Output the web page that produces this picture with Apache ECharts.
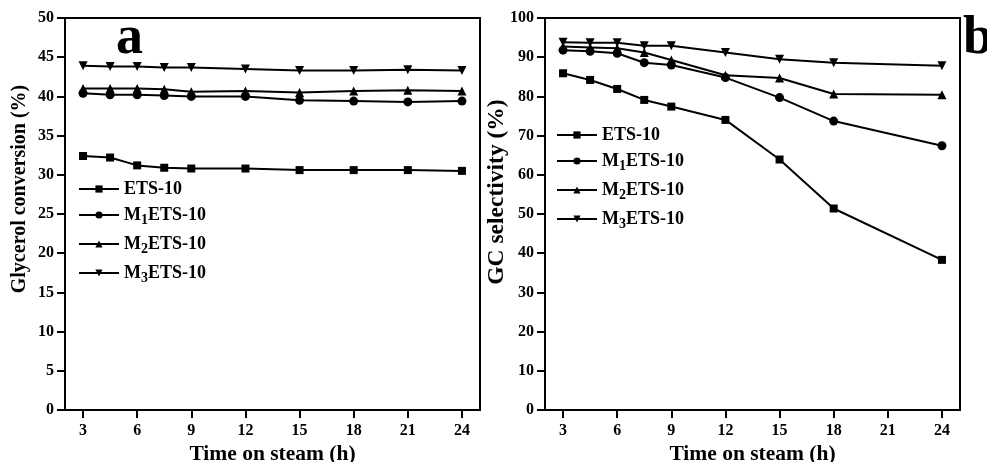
<!DOCTYPE html>
<html><head><meta charset="utf-8">
<script src="https://cdn.jsdelivr.net/npm/echarts@6/dist/echarts.min.js"></script>
<style>html,body{margin:0;padding:0;background:#fff}#c{width:987px;height:462px}</style>
</head><body><div id="c"></div>
<script>
// Data
const seriesNames = ['ETS-10', 'M1ETS-10', 'M2ETS-10', 'M3ETS-10'];
const xConv = [3, 4.5, 6, 7.5, 9, 12, 15, 18, 21, 24];
const convETS = [32.4, 32.2, 31.2, 30.9, 30.8, 30.8, 30.6, 30.6, 30.6, 30.5];
const convM1 = [40.4, 40.2, 40.2, 40.1, 40.0, 40.0, 39.5, 39.4, 39.3, 39.4];
const convM2 = [41.0, 41.0, 41.0, 40.9, 40.6, 40.7, 40.5, 40.7, 40.8, 40.7];
const convM3 = [43.9, 43.8, 43.8, 43.7, 43.7, 43.5, 43.3, 43.3, 43.4, 43.3];
const xSel = [3, 4.5, 6, 7.5, 9, 12, 15, 18, 24];
const selETS = [85.9, 84.2, 81.9, 79.1, 77.4, 74.0, 63.9, 51.4, 38.3];
const selM1 = [91.8, 91.5, 91.0, 88.6, 88.0, 84.8, 79.7, 73.7, 67.4];
const selM2 = [92.7, 92.5, 92.3, 91.2, 89.3, 85.4, 84.7, 80.6, 80.4];
const selM3 = [93.8, 93.7, 93.7, 92.9, 92.9, 91.2, 89.5, 88.6, 87.8];
const xTicks = [3, 6, 9, 12, 15, 18, 21, 24];
const yNameLeft = 'Glycerol conversion (%)';
const yNameRight = 'GC selectivity (%)';
const xName = 'Time on steam (h)';

const FONT = '"Liberation Serif", "Times New Roman", serif';
const symbols = ['rect', 'circle', 'triangle', 'triangle'];
const rotates = [0, 0, 0, 180];
const sizes = [8, 9, 9, 9];

function zip(xs, ys) { return xs.map((x, i) => [x, ys[i]]); }

function xAxis(gi) {
  return {
    type: 'value', gridIndex: gi, min: 2, max: 25,
    name: xName, nameLocation: 'middle', nameGap: 28,
    nameTextStyle: { fontFamily: FONT, fontWeight: 'bold', fontSize: 21.5, color: '#000' },
    axisLine: { lineStyle: { color: '#000', width: 2 } },
    axisTick: { inside: false, length: 8, lineStyle: { width: 2, color: '#000' }, customValues: xTicks },
    axisLabel: { fontFamily: FONT, fontWeight: 'bold', fontSize: 16, color: '#000', margin: 13, customValues: xTicks },
    splitLine: { show: false }
  };
}
function yAxis(gi, max, interval) {
  return {
    type: 'value', gridIndex: gi, min: 0, max: max, interval: interval,
    axisLine: { show: true, lineStyle: { color: '#000', width: 2 } },
    axisTick: { inside: false, length: 8, lineStyle: { width: 2, color: '#000' } },
    axisLabel: { fontFamily: FONT, fontWeight: 'bold', fontSize: 16, color: '#000', margin: 11 },
    splitLine: { show: false }
  };
}
function mkSeries(gi, xs, arrs) {
  return arrs.map((ys, i) => ({
    name: seriesNames[i], type: 'line', xAxisIndex: gi, yAxisIndex: gi,
    data: zip(xs, ys), symbol: symbols[i], symbolRotate: rotates[i], symbolSize: sizes[i],
    showAllSymbol: true,
    lineStyle: { color: '#000', width: 2 }, itemStyle: { color: '#000' }, z: 3 + i
  }));
}
function legendFmt(name) {
  const m = name.match(/^M(\d)(.*)$/);
  if (m) return '{b|M}{s|' + m[1] + '}{b|' + m[2] + '}';
  return '{b|' + name + '}';
}
const legendText = {
  fontFamily: FONT, fontWeight: 'bold', fontSize: 18, color: '#000',
  rich: {
    b: { fontFamily: FONT, fontWeight: 'bold', fontSize: 18, color: '#000' },
    s: { fontFamily: FONT, fontWeight: 'bold', fontSize: 14, color: '#000', padding: [10, 0, 0, 0] }
  }
};
function legend(left, top) {
  return {
    orient: 'vertical', left: left, top: top, itemWidth: 40, itemHeight: 9, itemGap: 8,
    data: seriesNames, formatter: legendFmt, textStyle: legendText,
    inactiveColor: '#000', selectedMode: false
  };
}
function vtext(x, y, text, size) {
  return { type: 'text', x: x, y: y, rotation: Math.PI / 2,
    style: { text: text, font: 'bold ' + size + 'px ' + FONT, fill: '#000', align: 'center', verticalAlign: 'middle' } };
}

const chart = echarts.init(document.getElementById('c'), null, { renderer: 'canvas' });
chart.setOption({
  animation: false,
  backgroundColor: '#fff',
  grid: [
    { left: 65, top: 18, width: 415, height: 392, show: true, borderColor: '#000', borderWidth: 2, containLabel: false, outerBoundsMode: 'none' },
    { left: 545, top: 18, width: 415, height: 392, show: true, borderColor: '#000', borderWidth: 2, containLabel: false, outerBoundsMode: 'none' }
  ],
  xAxis: [xAxis(0), xAxis(1)],
  yAxis: [yAxis(0, 50, 5), yAxis(1, 100, 10)],
  legend: [legend(73, 175), legend(551, 121)],
  graphic: [
    { type: 'text', left: 116, top: 12, style: { text: 'a', font: 'bold 54px ' + FONT, fill: '#000' } },
    { type: 'text', left: 963, top: 12, style: { text: 'b', font: 'bold 54px ' + FONT, fill: '#000' } },
    vtext(20, 189, yNameLeft, 20),
    vtext(497, 192, yNameRight, 23.5)
  ],
  series: [].concat(
    mkSeries(0, xConv, [convETS, convM1, convM2, convM3]),
    mkSeries(1, xSel, [selETS, selM1, selM2, selM3])
  )
});
</script>
</body></html>
